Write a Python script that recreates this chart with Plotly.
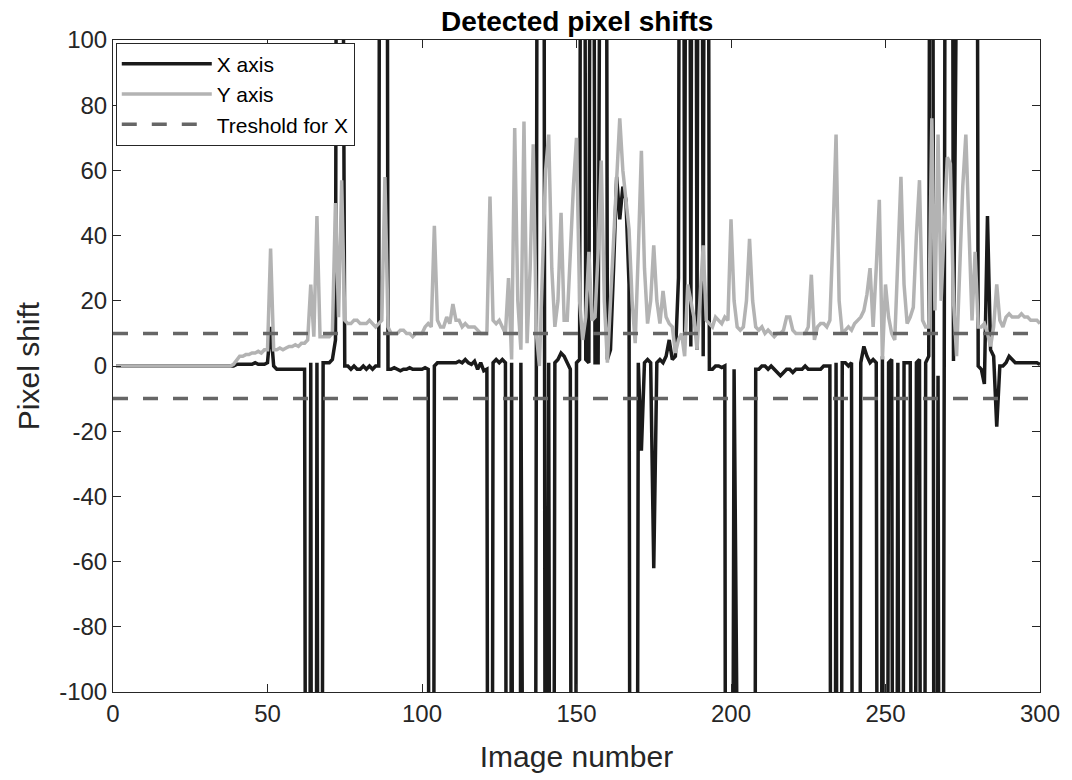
import plotly.graph_objects as go

# Image numbers
images = list(range(1, 301))

# Detected shift along X (black); values far outside the axis are clipped spikes
x_shift = [
    0, 0, 0, 0, 0, 0, 0, 0, 0, 0,
    0, 0, 0, 0, 0, 0, 0, 0, 0, 0,
    0, 0, 0, 0, 0, 0, 0, 0, 0, 0,
    0, 0, 0, 0, 0, 0, 0, 0, 0, 0.5,
    0.5, 0.5, 0.5, 0.5, 0.5, 1, 0.5, 0.5, 0.5, 1,
    12, 0, -1, -1, -1, -1, -1, -1, -1, -1,
    -1, -1, -500, 1, -800, 1, -500, 1, 1, 1,
    2, 8, 500, 500, 0, 0, -1, 0, -1, -1,
    0, -1, 0, -1, 0, 0, 600, 600, -1, -1,
    -0.5, -1, -1.5, -1, -1, -0.5, -1, -1, -1, -1,
    -0.5, -1, -700, 0, 1, 1, 1, 1, 1, 1,
    1, 1.5, 1, 2, 1, 0.5, 1.5, -1, 1, -1.5,
    -1, -600, 1, 2, 1, 2, 1, -600, 1, -500,
    -800, 1, -600, -500, -700, -600, 15, 600, 600, -300,
    1, -500, 1, 2, 4, 3, 1, -1, -600, 1,
    2, 500, 2, 1, 400, 1, 1, 500, 500, 2,
    5, 30, 58, 45, 55, 51, 25, -600, -500, 1,
    -26, 1, 2, 1, -62, 1, 2, 1, 3, 8,
    2, 3, 27, 500, 8, 500, 6, 500, 5, 500,
    3, 500, -1, -1, 0, 0, -0.5, 0, -700, -700,
    -1, -700, -700, -700, -700, -700, -700, -1, -1, 0,
    0, -1, 0, -1, -2, -3, -2, -1, -1, -2,
    -1, -1, -1, 0, -1, -1, -1, -1, -1, 0,
    0, 0, -600, 1, -600, 1, 1, 0, 1, -600,
    -600, 1, 6, 3, 1, 2, 1, -500, 3, -500,
    1, 2, -500, 1, -500, 1, 1, 1, -500, 1,
    2, -500, 1, 3, 500, -500, -3, -500, -3, 500,
    500, 1.5, 500, 500, 500, 500, 500, 500, 500, 0,
    -1, -5.5, 46, 5, 3, -18.6, 0, 0, 1, 3,
    2, 1, 1, 1, 1, 1, 1, 1, 1, 0.5,
]

# Detected shift along Y (grey)
y_shift = [
    0, 0, 0, 0, 0, 0, 0, 0, 0, 0,
    0, 0, 0, 0, 0, 0, 0, 0, 0, 0,
    0, 0, 0, 0, 0, 0, 0, 0, 0, 0,
    0, 0, 0, 0, 0, 0, 0, 0, 0.5, 2,
    3, 3, 3.5, 3.5, 4, 4, 4.5, 4, 5, 5,
    36, 5, 5, 5.5, 5, 5.5, 6, 6, 6.5, 6,
    7, 7, 8, 25, 9, 46, 9, 9, 9, 9,
    10, 50, 15, 57, 14, 13, 13, 14, 14, 13,
    13, 13, 14, 13, 12, 13, 14, 58, 12, 10,
    10, 10, 11, 11, 10, 10, 9, 10, 10, 10,
    12, 13, 12, 43, 14, 12, 12, 15, 13, 19,
    14, 14, 12, 13, 12, 12, 12, 11, 10, 10,
    10, 52, 14, 13, 14, 12, 10, 27, 2, 73,
    20, 5, 75, 7, 30, 68, 10, 0, 30, 60,
    71, 30, 12, 20, 47, 14, 14, 35, 55, 70,
    20, 8, 15, 35, 14, 15, 35, 63, 20, 1,
    20, 35, 58, 76, 60, 50, 42, 20, 7, 35,
    66, 30, 13, 20, 37, 20, 13, 23, 15, 13,
    12, 4, 8, 10, 3, 25, 20, 15, 5, 20,
    37, 14, 13, 12, 15, 14, 13, 15, 14, 45,
    20, 12, 11, 12, 20, 39, 20, 12, 11, 12,
    10, 11, 10, 9, 10, 10, 11, 15, 15, 11,
    10, 10, 10, 10, 12, 28, 8, 12, 13, 13,
    12, 14, 40, 71, 20, 10, 11, 12, 11, 13,
    14, 15, 17, 22, 30, 12, 30, 51, 2, 25,
    15, 10, 8, 30, 58, 25, 13, 15, 18, 40,
    57, 14, 12, 12, 76, 17, 71, 20, 45, 64,
    62, 20, 3, 30, 55, 71, 40, 14, 35, 12,
    12, 13, 10, 6, 12, 25, 14, 12, 15, 16,
    15, 15, 15, 16, 15, 15, 14, 14, 14, 13,
]

threshold = 10
x_ticks = [0, 50, 100, 150, 200, 250, 300]
y_ticks = [-100, -80, -60, -40, -20, 0, 20, 40, 60, 80, 100]
y_tick_text = ["-100", "-80", "-60", "-40", "-20", "0", "20", "40", "60", "80", "100"]

FONT = "Liberation Sans, Arial, sans-serif"
NARROW = "Liberation Sans Narrow, Arial Narrow, Liberation Sans, sans-serif"
AX = "#262626"

fig = go.Figure()
fig.add_trace(go.Scatter(x=images, y=x_shift, mode="lines", name="X axis",
                         line=dict(color="#1a1a1a", width=3.5)))
fig.add_trace(go.Scatter(x=images, y=y_shift, mode="lines", name="Y axis",
                         line=dict(color="#b3b3b3", width=3.5)))
fig.add_trace(go.Scatter(x=[0, 300], y=[threshold, threshold], mode="lines",
                         name="Treshold for X",
                         line=dict(color="#666666", width=3.5, dash="15px,15px")))
fig.add_trace(go.Scatter(x=[0, 300], y=[-threshold, -threshold], mode="lines",
                         showlegend=False,
                         line=dict(color="#666666", width=3.5, dash="15px,15px")))

fig.update_layout(
    width=1072, height=780,
    margin=dict(l=113, r=29, t=40, b=88),
    paper_bgcolor="white", plot_bgcolor="white",
    font=dict(family=FONT, color="#000000"),
    title=dict(text="<b>Detected pixel shifts</b>", x=0.5385, xanchor="center",
               y=1 - 21 / 780, yanchor="middle", yref="container",
               font=dict(size=28, family=FONT, color="#000")),
    legend=dict(x=0.003, y=0.996, xanchor="left", yanchor="top",
                bgcolor="white", bordercolor=AX, borderwidth=1,
                font=dict(size=21, family=FONT, color="#000"),
                itemwidth=90, tracegroupgap=0),
    showlegend=True,
)
fig.update_xaxes(range=[0, 300], tickvals=x_ticks, ticks="inside", ticklen=8,
                 tickcolor=AX, showline=True, linecolor=AX, linewidth=1,
                 mirror="ticks", showgrid=False, zeroline=False,
                 tickfont=dict(size=24, family=NARROW, color="#262626"),
                 title=dict(text="Image number", standoff=20,
                            font=dict(size=30, family=NARROW, color="#262626")))
fig.update_yaxes(range=[-100, 100], tickvals=y_ticks, ticktext=y_tick_text,
                 ticks="inside", ticklen=8,
                 tickcolor=AX, showline=True, linecolor=AX, linewidth=1,
                 mirror="ticks", showgrid=False, zeroline=False,
                 tickfont=dict(size=24, family=NARROW, color="#262626"),
                 title=dict(text="Pixel shift", standoff=10,
                            font=dict(size=30, family=NARROW, color="#262626")))

fig.write_html("out.html")
